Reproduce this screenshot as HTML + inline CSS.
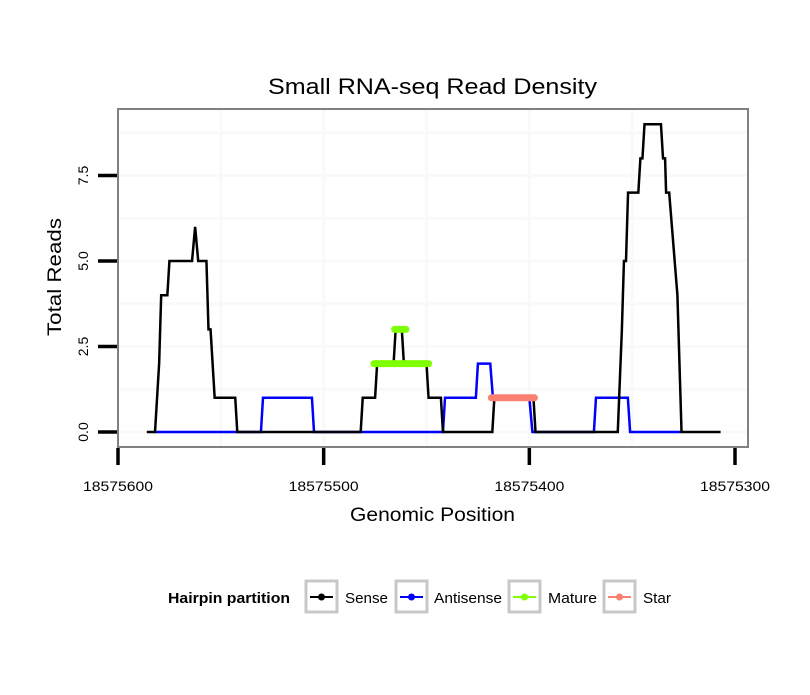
<!DOCTYPE html>
<html><head><meta charset="utf-8"><style>
body{margin:0;background:#fff;}
svg text{font-family:"Liberation Sans",sans-serif;}
</style></head><body>
<svg id="chart" width="810" height="690" xmlns="http://www.w3.org/2000/svg">
<rect width="810" height="690" fill="#fff"/>
<text x="268" y="94" font-size="22" textLength="329" lengthAdjust="spacingAndGlyphs">Small RNA-seq Read Density</text>
<rect x="118" y="109" width="630" height="338" fill="#fff"/>
<g id="grid"></g>
<g id="series"></g>
<rect x="118" y="109" width="630" height="338" fill="none" stroke="#808080" stroke-width="2"/>
<g id="axes"></g>
<text x="350" y="521" font-size="19" textLength="165" lengthAdjust="spacingAndGlyphs">Genomic Position</text>
<text transform="translate(61,336) rotate(-90)" font-size="19" textLength="118" lengthAdjust="spacingAndGlyphs">Total Reads</text>
<g>
<text x="168" y="603" font-size="15" font-weight="bold" textLength="122" lengthAdjust="spacingAndGlyphs">Hairpin partition</text>
<g><rect x="306" y="581" width="31" height="31" fill="#fff" stroke="#c8c8c8" stroke-width="3"/><line x1="310" y1="597" x2="333" y2="597" stroke="#000" stroke-width="2"/><circle cx="321.5" cy="597" r="3.5" fill="#000"/><text x="345" y="603" font-size="15" textLength="43" lengthAdjust="spacingAndGlyphs">Sense</text></g>
<g><rect x="396" y="581" width="31" height="31" fill="#fff" stroke="#c8c8c8" stroke-width="3"/><line x1="400" y1="597" x2="423" y2="597" stroke="#00f" stroke-width="2"/><circle cx="411.5" cy="597" r="3.5" fill="#00f"/><text x="434" y="603" font-size="15" textLength="68" lengthAdjust="spacingAndGlyphs">Antisense</text></g>
<g><rect x="509" y="581" width="31" height="31" fill="#fff" stroke="#c8c8c8" stroke-width="3"/><line x1="513" y1="597" x2="536" y2="597" stroke="#7fff00" stroke-width="2"/><circle cx="524.5" cy="597" r="3.5" fill="#7fff00"/><text x="548" y="603" font-size="15" textLength="49" lengthAdjust="spacingAndGlyphs">Mature</text></g>
<g><rect x="604" y="581" width="31" height="31" fill="#fff" stroke="#c8c8c8" stroke-width="3"/><line x1="608" y1="597" x2="631" y2="597" stroke="#fa8072" stroke-width="2"/><circle cx="619.5" cy="597" r="3.5" fill="#fa8072"/><text x="643" y="603" font-size="15" textLength="28" lengthAdjust="spacingAndGlyphs">Star</text></g>
</g>
</svg>
<script>
const xTicks=[18575600,18575500,18575400,18575300];
const xTickLabels=["18575600","18575500","18575400","18575300"];
const yTicks=[0,2.5,5,7.5];
const yTickLabels=["0.0","2.5","5.0","7.5"];
const senseX=[18575586,18575582,18575580,18575579,18575576,18575575,18575564,18575562.5,18575561,18575557,18575556,18575555,18575553,18575543,18575542,18575482,18575481,18575475,18575474,18575466,18575465,18575462,18575461,18575450,18575449,18575443,18575442,18575418,18575417,18575398,18575397,18575357,18575355,18575354,18575353,18575352,18575347,18575346,18575345,18575344,18575336,18575335,18575334,18575333.5,18575332,18575328,18575326,18575307];
const senseY=[0,0,2,4,4,5,5,6,5,5,3,3,1,1,0,0,1,1,2,2,3,3,2,2,1,1,0,0,1,1,0,0,3,5,5,7,7,8,8,9,9,8,8,7,7,4,0,0];
const antiXs=[18575582,18575530.5,18575529.5,18575505.7,18575504.7,18575442,18575441,18575426,18575425,18575419,18575417.7,18575400,18575398.5,18575368.6,18575367.6,18575352.1,18575351,18575326.3];
const antiYs=[0,0,1,1,0,0,1,1,2,2,1,1,0,0,1,1,0,0];
const matureStart=[18575475.5,18575463.5,18575465.5];
const matureEnd=[18575464.5,18575449,18575460];
const matureY=[2,2,3];
const starStart=[18575418.5];
const starEnd=[18575397.5];
const starY=[1];

const NS="http://www.w3.org/2000/svg";
const X0=118,X1=735;
const xs=v=>X0+(18575600-v)*(X1-X0)/300;
const ys=v=>432-v*34.2;
function mk(tag,attrs,parent){const e=document.createElementNS(NS,tag);for(const k in attrs)e.setAttribute(k,attrs[k]);parent.appendChild(e);return e;}
const grid=document.getElementById('grid'),ser=document.getElementById('series'),ax=document.getElementById('axes');
[1.25,3.75,6.25,8.75,0,2.5,5,7.5].forEach(v=>{const l=mk('line',{x1:119,x2:747,y1:ys(v),y2:ys(v),stroke:'#f9f9f9','stroke-width':3},grid);

});
[18575550,18575450,18575350,18575500,18575400].forEach(v=>{const l=mk('line',{x1:xs(v),x2:xs(v),y1:110,y2:446,stroke:'#f9f9f9','stroke-width':3},grid);

});
function poly(X,Y,color,name){const pts=X.map((x,i)=>xs(x)+','+ys(Y[i])).join(' ');const p=mk('polyline',{points:pts,fill:'none',stroke:color,'stroke-width':2.5,'stroke-linejoin':'miter'},ser);

}
poly(antiXs,antiYs,'#0000ff','antisense-line');
poly(senseX,senseY,'#000000','sense-line');
matureY.forEach((v,i)=>{const l=mk('line',{x1:xs(matureStart[i]),x2:xs(matureEnd[i]),y1:ys(v),y2:ys(v),stroke:'#7fff00','stroke-width':7,'stroke-linecap':'round'},ser);

});
starY.forEach((v,i)=>{const l=mk('line',{x1:xs(starStart[i]),x2:xs(starEnd[i]),y1:ys(v),y2:ys(v),stroke:'#fa8072','stroke-width':7,'stroke-linecap':'round'},ser);

});
yTicks.forEach((v,i)=>{const l=mk('line',{x1:98,x2:117,y1:ys(v),y2:ys(v),stroke:'#000','stroke-width':3.5},ax);


const t=mk('text',{transform:`translate(88,${ys(v)}) rotate(-90)`,'font-size':14,'text-anchor':'middle'},ax);t.textContent=yTickLabels[i];

});
xTicks.forEach((v,i)=>{const l=mk('line',{x1:xs(v),x2:xs(v),y1:448,y2:465,stroke:'#000','stroke-width':3.5},ax);


const t=mk('text',{x:xs(v)-35,y:491,'font-size':14,textLength:70,lengthAdjust:'spacingAndGlyphs'},ax);t.textContent=xTickLabels[i];

});
</script>
</body></html>
